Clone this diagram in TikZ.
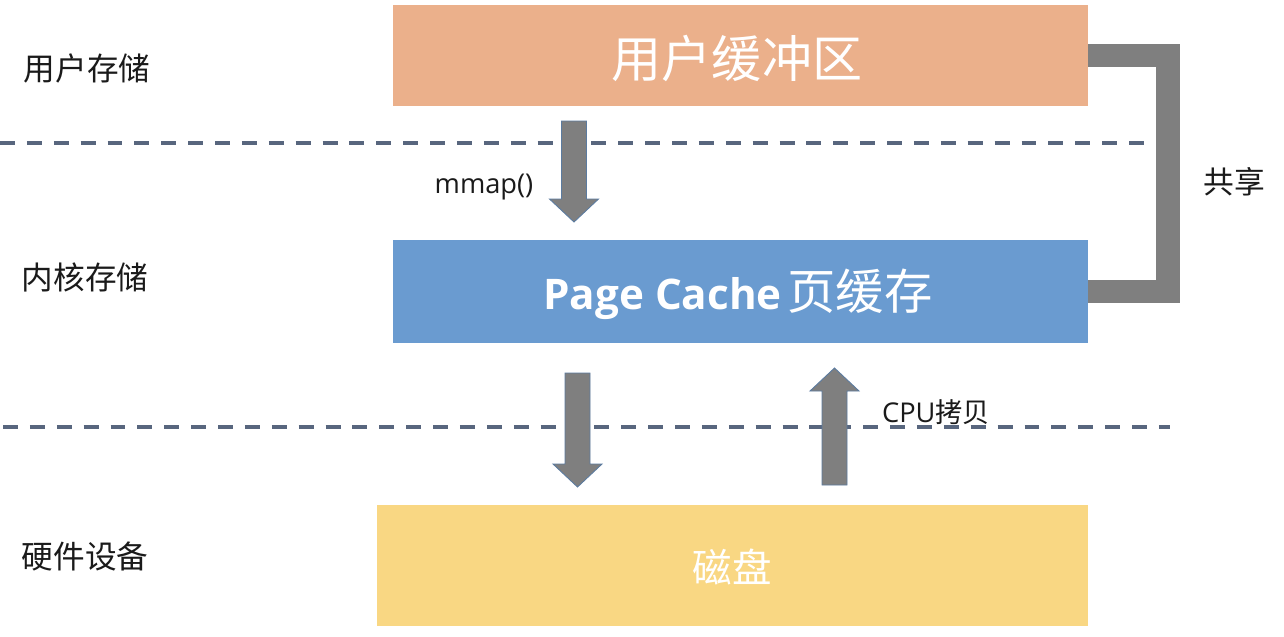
\documentclass[tikz,border=0pt]{standalone}
\usepackage{fontspec}
\newfontfamily\cjk{Noto Sans CJK SC}
\newfontfamily\osans{Open Sans}
\definecolor{usercol}{HTML}{EBB08B}
\definecolor{pagecol}{HTML}{6A9BD0}
\definecolor{diskcol}{HTML}{F9D783}
\definecolor{arrowcol}{HTML}{7F7F7F}
\definecolor{arrowedge}{HTML}{5B7BA0}
\definecolor{dashcol}{HTML}{58667E}
\definecolor{labelcol}{HTML}{1A1A1A}
\tikzset{
  box/.style={draw=none, inner sep=0pt, text=white},
  layerlabel/.style={inner sep=0pt, text=labelcol, font=\cjk\fontsize{18}{20}\selectfont},
  smalllabel/.style={inner sep=0pt, text=labelcol, font=\osans\fontsize{15.5}{18}\selectfont},
  divider/.style={draw=dashcol, line width=2pt, dash pattern=on 8.5pt off 6.8pt},
  blockarrow/.style={fill=arrowcol, draw=arrowedge, line width=0.5pt, line join=miter},
  sharebar/.style={draw=arrowcol, line width=13.6pt, line join=miter}
}
\newcommand{\vblockarrow}[3]{% x, start y, tip y
  \pgfmathsetmacro\hb{#3 - sign(#3-#2)*23}
  \filldraw[blockarrow] (#1-12.5,#2) -- (#1+12.5,#2) -- (#1+12.5,\hb) -- (#1+24.5,\hb)
    -- (#1,#3) -- (#1-24.5,\hb) -- (#1-12.5,\hb) -- cycle;}
\begin{document}
\begin{tikzpicture}[x=0.02cm,y=-0.02cm]
\useasboundingbox (0,0) rectangle (1284,636);
\fill[white] (0,0) rectangle (1284,636);

% dashed dividers
\coordinate (d1a) at (0,143);
\coordinate (d1b) at (1155,143);
\coordinate (d2a) at (3,427);
\coordinate (d2b) at (1170,427);
\draw[divider] (d1a) -- (d1b);
\draw[divider] (d2a) -- (d2b);

% boxes
\node[box, fill=usercol, minimum width=13.9cm, minimum height=2.02cm] (ub) at (740.5,55.5) {};
\node[text=white, inner sep=0pt, font=\cjk\fontsize{28.5}{32}\selectfont] (ubt) at (737,58) {用户缓冲区};
\node[box, fill=pagecol, minimum width=13.9cm, minimum height=2.06cm] (pc) at (740.5,291.5) {};
\node[text=white, inner sep=0pt] (pct) at (738,294) {{\osans\bfseries\fontsize{24}{28}\selectfont Page Cache} {\cjk\fontsize{27.5}{30}\selectfont 页缓存}};
\node[box, fill=diskcol, minimum width=14.22cm, minimum height=2.42cm] (disk) at (732.5,565.5) {};
\node[text=white, inner sep=0pt, font=\cjk\fontsize{22.5}{26}\selectfont] (diskt) at (732,567) {磁盘};

% share bracket
\draw[sharebar] (ub.east) -- ++(79.5,0) |- (pc.east);

% block arrows
\vblockarrow{574}{121}{222}
\vblockarrow{577.5}{373}{487}
\vblockarrow{834.5}{485}{368}

% labels
\node[layerlabel] (l1) at (87,68) {用户存储};
\node[layerlabel] (l2) at (85,277) {内核存储};
\node[layerlabel] (l3) at (85,556) {硬件设备};
\node[smalllabel] (mm) at (484,187) {mmap()};
\node[smalllabel] (cpu) at (936,412) {CPU{\cjk 拷贝}};
\node[layerlabel, font=\cjk\fontsize{17.5}{20}\selectfont] (share) at (1234,182) {共享};
\end{tikzpicture}
\end{document}
